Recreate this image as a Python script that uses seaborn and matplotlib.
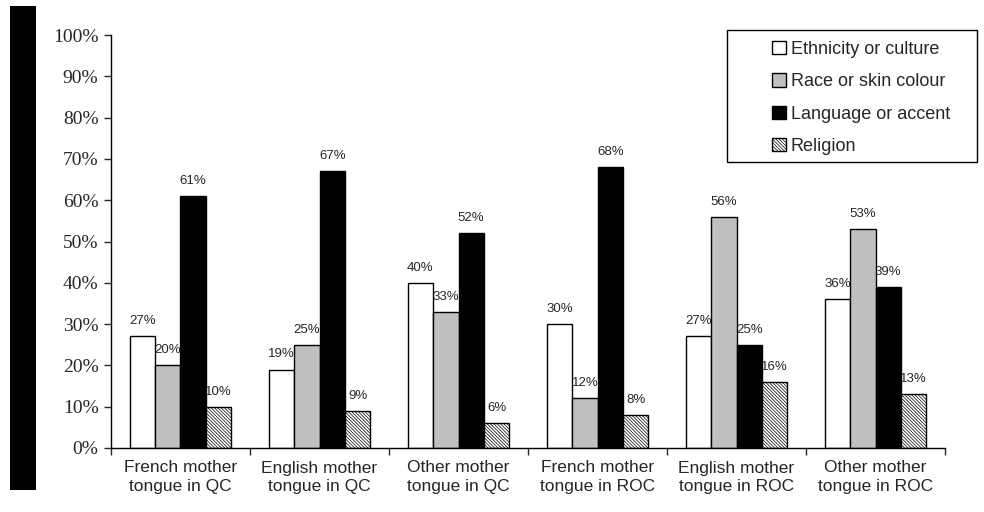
import numpy as np
import pandas as pd
import matplotlib
matplotlib.use("Agg")
import matplotlib.pyplot as plt
import seaborn as sns
from matplotlib.patches import Rectangle, Patch

sns.set_theme(style="white")
plt.rcParams['font.family'] = ['Liberation Sans', 'DejaVu Sans']
plt.rcParams['hatch.linewidth'] = 0.5

# Data
groups = ["French mother\ntongue in QC", "English mother\ntongue in QC", "Other mother\ntongue in QC",
          "French mother\ntongue in ROC", "English mother\ntongue in ROC", "Other mother\ntongue in ROC"]
series = ["Ethnicity or culture", "Race or skin colour", "Language or accent", "Religion"]
ethnicity = [27, 19, 40, 30, 27, 36]
race = [20, 25, 33, 12, 56, 53]
language = [61, 67, 52, 68, 25, 39]
religion = [10, 9, 6, 8, 16, 13]

colors = ["#ffffff", "#c0c0c0", "#000000", "#ffffff"]
hatches = [None, None, None, "\\\\\\\\\\\\\\\\\\\\"]

df = pd.DataFrame({
    "group": np.repeat(groups, 4),
    "series": series * len(groups),
    "value": np.column_stack([ethnicity, race, language, religion]).ravel(),
})

fig = plt.figure(figsize=(9.84, 5.12), dpi=100)
ax = fig.add_axes([0.1128, 0.125, 0.8476, 0.8066])

sns.barplot(data=df, x="group", y="value", hue="series", hue_order=series,
            palette=colors, width=0.73, edgecolor="black", linewidth=1.0,
            ax=ax, legend=False)

# style bars per series and label them
for k, cont in enumerate(ax.containers):
    for bar, val in zip(cont, [ethnicity, race, language, religion][k]):
        bar.set_facecolor(colors[k])
        bar.set_edgecolor("black")
        if hatches[k]:
            bar.set_hatch(hatches[k])
        ax.text(bar.get_x() + bar.get_width() / 2, val + 2.2, f"{val}%",
                ha="center", va="bottom", fontsize=9.5)

ax.set_ylim(0, 100)
ax.set_xlim(-0.5, len(groups) - 0.5)
ax.set_yticks(np.arange(0, 101, 10))
ax.set_yticklabels([f"{v}%" for v in range(0, 101, 10)],
                   family=["Liberation Serif", "DejaVu Serif"], fontsize=14)
ax.set_xticks(np.arange(len(groups)))
ax.set_xticklabels(groups, fontsize=12.5, linespacing=1.3)
ax.tick_params(axis="x", length=0, pad=9)
ax.tick_params(axis="y", length=5, width=1, direction="out", left=True, pad=4)

# minor ticks at group boundaries on x
ax.set_xticks(np.arange(-0.5, len(groups), 1), minor=True)
ax.tick_params(axis="x", which="minor", length=5, width=1, direction="out", bottom=True)

for side in ["top", "right"]:
    ax.spines[side].set_visible(False)
for side in ["left", "bottom"]:
    ax.spines[side].set_color("black")
    ax.spines[side].set_linewidth(1)
ax.set_xlabel("")
ax.set_ylabel("")
ax.grid(False)

# legend box (drawn separately so its padding matches the reference)
ax.add_patch(Rectangle((727 / 984, 1 - 162 / 512), 250 / 984, 132 / 512,
                       transform=fig.transFigure, facecolor="white",
                       edgecolor="black", linewidth=1, zorder=4, clip_on=False))
handles = [Patch(facecolor=colors[i], edgecolor="black", hatch=hatches[i], label=series[i])
           for i in range(4)]
leg = ax.legend(handles=handles, loc="upper left",
                bbox_to_anchor=(772 / 984, 1 - 41 / 512), bbox_transform=fig.transFigure,
                fontsize=13, frameon=False,
                handlelength=0.75, handleheight=0.75, handletextpad=0.3,
                labelspacing=0.85, borderpad=0.0, borderaxespad=0.0)
leg.set_zorder(6)

# black block on the far left
fig.patches.append(Rectangle((10 / 984, 1 - 490 / 512), 26 / 984, 484 / 512,
                             transform=fig.transFigure, facecolor="black",
                             edgecolor="none"))

fig.savefig("out.png", dpi=100)
